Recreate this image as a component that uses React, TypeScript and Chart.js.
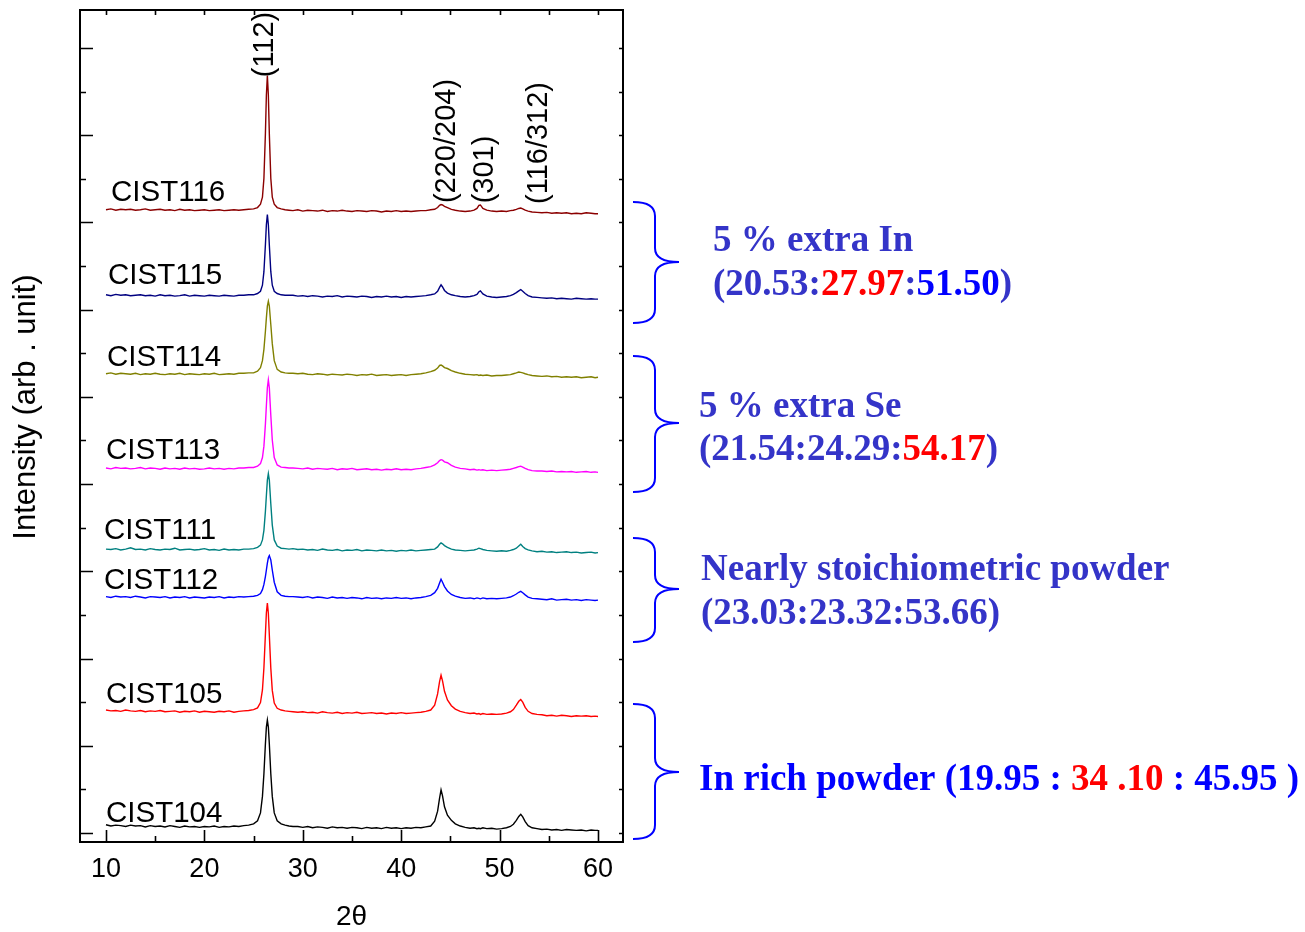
import React, { useEffect, useRef } from "react";
import { Chart, registerables } from "chart.js";

Chart.register(...registerables);

const SANS = '"Liberation Sans", Arial, Helvetica, sans-serif';
const SERIF = '"Liberation Serif", "Times New Roman", serif';

// 2θ sampling points (degrees)
const TWO_THETA = [
  10, 10.5, 11, 11.5, 12, 12.5, 13, 13.5, 14, 14.5, 15, 15.5, 16, 16.5, 17, 17.5, 18, 18.5, 19, 19.5, 20, 20.5, 21, 21.5, 22, 22.5, 23, 23.5, 24, 24.5,
  25, 25.4, 25.7, 25.9, 26.05, 26.2, 26.3, 26.4, 26.5, 26.6, 26.75, 26.9, 27.1, 27.4, 27.8,
  28.2, 28.6, 29, 29.5, 30, 30.5, 31, 31.5, 32, 32.5, 33, 33.5, 34, 34.5, 35, 35.5, 36, 36.5, 37, 37.5, 38, 38.5, 39, 39.5, 40, 40.5, 41, 41.5, 42, 42.5, 43,
  43.4, 43.7, 43.9, 44.05, 44.2, 44.4, 44.7, 45.1, 45.5, 46, 46.5, 47, 47.4, 47.7, 47.9, 48.05, 48.3, 48.7, 49.2, 49.7,
  50.2, 50.7, 51.1, 51.4, 51.7, 51.95, 52.15, 52.35, 52.6, 52.9, 53.3, 53.8,
  54.3, 54.8, 55.3, 55.8, 56.3, 56.8, 57.3, 57.8, 58.3, 58.8, 59.3, 59.7, 60,
];

// intensities (arb. units, before vertical stacking offset)
const CIST104 = [
  14, 11, 13, 12, 10, 13, 11, 12, 9, 12, 10, 11, 9, 12, 10, 8, 11, 9, 10, 8, 10, 9, 11, 8, 10, 9, 11, 10, 12, 13,
  16, 23, 41, 79, 131, 199, 238, 254, 238, 199, 131, 79, 41, 23, 16,
  13, 11, 10, 10, 8, 10, 7, 9, 8, 6, 9, 7, 8, 6, 8, 7, 5, 8, 6, 7, 5, 8, 6, 7, 5, 7, 6, 8, 7, 9, 11,
  22, 45, 75, 94, 80, 55, 36, 24, 16, 11, 8, 6, 7, 5, 6, 5, 7, 5, 6, 4,
  5, 7, 10, 15, 24, 33, 38, 32, 21, 12, 7, 5,
  3, 4, 2, 3, 1, 3, 2, 1, 2, 0, 2, 1, 1,
];
const CIST105 = [
  15, 13, 14, 12, 15, 13, 12, 14, 11, 13, 12, 14, 11, 12, 13, 10, 12, 11, 13, 10, 12, 11, 10, 12, 11, 13, 10, 12, 13, 14,
  16, 20, 32, 61, 112, 188, 238, 260, 237, 187, 111, 60, 31, 19, 15,
  13, 12, 11, 10, 11, 9, 10, 8, 11, 9, 8, 10, 7, 9, 8, 10, 7, 8, 9, 7, 8, 6, 8, 7, 9, 7, 8, 9, 10, 12, 15,
  26, 52, 80, 95, 82, 58, 38, 25, 17, 12, 9, 7, 8, 6, 7, 5, 7, 5, 6, 5,
  6, 8, 11, 16, 26, 35, 39, 33, 21, 12, 7, 5,
  4, 2, 3, 1, 3, 2, 0, 2, 1, 2, 0, 1, 0,
];
const CIST112 = [
  9, 7, 10, 8, 9, 7, 10, 8, 6, 9, 8, 7, 9, 6, 8, 7, 9, 6, 8, 7, 6, 8, 7, 9, 6, 8, 7, 9, 8, 9,
  10, 12, 16, 25, 37, 55, 70, 86, 98, 103, 93, 70, 42, 20, 12,
  10, 9, 9, 8, 7, 9, 6, 8, 7, 5, 8, 6, 7, 5, 7, 6, 4, 7, 5, 6, 4, 6, 5, 7, 5, 6, 4, 6, 7, 9, 12,
  18, 28, 40, 49, 42, 32, 22, 14, 10, 7, 5, 6, 4, 6, 5, 4, 6, 4, 5, 4,
  5, 6, 8, 11, 15, 19, 21, 18, 13, 8, 5, 4,
  3, 2, 4, 1, 2, 3, 1, 2, 0, 2, 1, 0, 1,
];
const CIST111 = [
  9, 8, 10, 7, 9, 12, 8, 9, 7, 10, 8, 7, 9, 8, 11, 7, 8, 9, 7, 8, 10, 7, 8, 6, 9, 7, 8, 7, 9, 9,
  10, 13, 18, 30, 52, 95, 132, 167, 182, 167, 113, 64, 30, 16, 11,
  10, 9, 10, 8, 9, 7, 8, 6, 9, 7, 6, 8, 5, 7, 6, 8, 5, 7, 6, 5, 7, 5, 6, 4, 6, 5, 7, 5, 6, 7, 8,
  9, 14, 20, 23, 21, 17, 13, 9, 7, 6, 5, 6, 7, 9, 11, 10, 8, 6, 5, 4,
  5, 4, 6, 8, 11, 16, 20, 15, 10, 7, 5, 3,
  4, 2, 3, 1, 2, 3, 1, 2, 0, 1, 2, 0, 1,
];
const CIST113 = [
  10, 8, 11, 9, 10, 8, 9, 11, 8, 10, 9, 7, 10, 8, 9, 7, 10, 8, 9, 7, 8, 10, 8, 9, 7, 9, 8, 10, 10, 11,
  11, 14, 20, 34, 60, 110, 153, 194, 212, 194, 131, 74, 34, 17, 12,
  11, 10, 10, 9, 8, 10, 7, 9, 8, 7, 9, 6, 8, 7, 9, 6, 7, 8, 6, 7, 5, 7, 6, 8, 6, 7, 6, 8, 9, 11, 13,
  17, 22, 27, 29, 28, 24, 22, 16, 12, 9, 8, 6, 7, 5, 6, 5, 6, 4, 5, 4,
  5, 6, 7, 9, 11, 13, 14, 12, 9, 6, 4, 3,
  3, 2, 3, 1, 2, 1, 2, 0, 1, 2, 0, 1, 0,
];
const CIST114 = [
  9, 11, 8, 10, 9, 8, 10, 7, 9, 8, 10, 8, 7, 9, 8, 10, 7, 9, 8, 7, 9, 8, 10, 7, 8, 9, 8, 10, 10, 11,
  11, 15, 23, 39, 65, 106, 137, 164, 175, 164, 122, 78, 39, 19, 13,
  11, 10, 10, 9, 10, 8, 7, 9, 8, 6, 8, 7, 6, 8, 7, 5, 7, 6, 8, 5, 6, 7, 5, 6, 7, 5, 7, 8, 9, 11, 14,
  17, 22, 28, 29, 27, 23, 21, 16, 13, 10, 8, 7, 6, 7, 5, 6, 5, 6, 4, 5,
  5, 6, 7, 9, 11, 13, 12, 11, 9, 7, 5, 4,
  3, 4, 2, 3, 1, 2, 1, 2, 0, 1, 2, 0, 1,
];
const CIST115 = [
  10, 8, 11, 9, 10, 8, 9, 10, 8, 9, 7, 10, 8, 9, 7, 8, 10, 7, 9, 8, 7, 9, 8, 7, 9, 8, 7, 9, 9, 10,
  10, 13, 18, 32, 63, 124, 171, 194, 171, 124, 63, 32, 18, 13, 10,
  9, 9, 9, 7, 8, 6, 8, 7, 5, 7, 6, 8, 5, 7, 6, 5, 7, 6, 4, 6, 5, 7, 5, 6, 4, 6, 5, 6, 7, 8, 10,
  12, 18, 27, 33, 28, 20, 14, 10, 8, 6, 5, 6, 8, 11, 17, 19, 12, 7, 5, 4,
  5, 6, 8, 11, 15, 19, 22, 18, 13, 8, 5, 4,
  3, 2, 3, 1, 2, 1, 0, 2, 1, 0, 1, 0, 0,
];
const CIST116 = [
  9, 11, 8, 10, 9, 10, 8, 9, 11, 8, 9, 10, 8, 9, 7, 10, 8, 9, 7, 8, 9, 7, 8, 9, 7, 8, 9, 8, 9, 10,
  11, 14, 22, 38, 81, 183, 272, 317, 272, 183, 81, 38, 22, 14, 11,
  9, 8, 7, 9, 6, 8, 7, 6, 8, 5, 7, 6, 8, 6, 5, 7, 6, 5, 7, 6, 4, 6, 5, 7, 5, 6, 5, 6, 7, 7, 9,
  10, 14, 19, 21, 20, 17, 14, 10, 8, 6, 5, 6, 8, 12, 19, 20, 12, 8, 6, 5,
  6, 5, 7, 8, 10, 12, 13, 11, 8, 6, 4, 3,
  2, 3, 1, 2, 1, 2, 0, 1, 0, 2, 1, 0, 0,
];

const SAMPLE_NAMES = ["CIST104", "CIST105", "CIST112", "CIST111", "CIST113", "CIST114", "CIST115", "CIST116"];
const SERIES = [CIST104, CIST105, CIST112, CIST111, CIST113, CIST114, CIST115, CIST116];
const OFFSETS = [5, 267, 533, 642, 827, 1044, 1224, 1420];
const LINE_COLORS = ["#000000", "#FF0000", "#0000FF", "#008080", "#FF00FF", "#808000", "#000080", "#8B0000"];

const X_MAJOR_TICKS = [10, 20, 30, 40, 50, 60];
const X_MINOR_TICKS = [15, 25, 35, 45, 55];
const Y_MAJOR_TICKS = [0, 200, 400, 600, 800, 1000, 1200, 1400, 1600, 1800];
const Y_MINOR_TICKS = [100, 300, 500, 700, 900, 1100, 1300, 1500, 1700];

const PEAK_LABELS = ["(112)", "(220/204)", "(301)", "(116/312)"];

const VIOLET = "#3434C8";
const BLUE = "#0000FF";
const RED = "#FF0000";

const GROUP_TEXT: { x: number; y: number; parts: [string, string][] }[] = [
  { x: 713, y: 251, parts: [["5 % extra In", VIOLET]] },
  { x: 713, y: 295, parts: [["(20.53:", VIOLET], ["27.97", RED], [":", VIOLET], ["51.50", BLUE], [")", VIOLET]] },
  { x: 699, y: 417, parts: [["5 % extra Se", VIOLET]] },
  { x: 699, y: 460, parts: [["(21.54:24.29:", VIOLET], ["54.17", RED], [")", VIOLET]] },
  { x: 701, y: 580, parts: [["Nearly stoichiometric powder", VIOLET]] },
  { x: 701, y: 624, parts: [["(23.03:23.32:53.66)", VIOLET]] },
  { x: 699, y: 790, parts: [["In rich powder (19.95 : ", BLUE], ["34 .10", RED], [" : 45.95 )", BLUE]] },
];

const BRACES = [
  { top: 202, tip: 262, bottom: 323 },
  { top: 356, tip: 423, bottom: 492 },
  { top: 538, tip: 589, bottom: 642 },
  { top: 704, tip: 772, bottom: 839 },
];

const overlayPlugin = {
  id: "overlay",
  afterDatasetsDraw(chart: any) {
    const { ctx, chartArea: a, scales } = chart;
    const xs = scales.x;
    const ys = scales.y;
    ctx.save();
    ctx.strokeStyle = "#000";
    ctx.lineWidth = 2;
    ctx.strokeRect(a.left, a.top, a.right - a.left, a.bottom - a.top);
    ctx.lineWidth = 1.6;
    ctx.beginPath();
    X_MAJOR_TICKS.forEach((v) => {
      const p = Math.round(xs.getPixelForValue(v)) + 0.5;
      ctx.moveTo(p, a.bottom);
      ctx.lineTo(p, a.bottom - 12);
      ctx.moveTo(p, a.top);
      ctx.lineTo(p, a.top + 5);
    });
    X_MINOR_TICKS.forEach((v) => {
      const p = Math.round(xs.getPixelForValue(v)) + 0.5;
      ctx.moveTo(p, a.bottom);
      ctx.lineTo(p, a.bottom - 6);
      ctx.moveTo(p, a.top);
      ctx.lineTo(p, a.top + 5);
    });
    Y_MAJOR_TICKS.forEach((v) => {
      const p = Math.round(ys.getPixelForValue(v)) + 0.5;
      ctx.moveTo(a.left, p);
      ctx.lineTo(a.left + 13, p);
      ctx.moveTo(a.right, p);
      ctx.lineTo(a.right - 4, p);
    });
    Y_MINOR_TICKS.forEach((v) => {
      const p = Math.round(ys.getPixelForValue(v)) + 0.5;
      ctx.moveTo(a.left, p);
      ctx.lineTo(a.left + 6, p);
      ctx.moveTo(a.right, p);
      ctx.lineTo(a.right - 4, p);
    });
    ctx.stroke();
    ctx.restore();
  },
  afterDraw(chart: any) {
    const { ctx } = chart;
    ctx.save();
    ctx.fillStyle = "#000";
    ctx.font = `31px ${SANS}`;
    ctx.textAlign = "center";
    ctx.textBaseline = "middle";
    ctx.save();
    ctx.translate(26, 407);
    ctx.rotate(-Math.PI / 2);
    ctx.fillText("Intensity (arb . unit)", 0, 0);
    ctx.restore();

    const namePos = [[106, 822], [106, 703], [104, 589], [104, 539], [106, 459], [107, 366], [108, 284], [111, 201]];
    ctx.font = `29.5px ${SANS}`;
    ctx.textAlign = "left";
    ctx.textBaseline = "alphabetic";
    SAMPLE_NAMES.forEach((n, i) => {
      ctx.fillText(n, namePos[i][0], namePos[i][1]);
    });

    const peakPos = [[265, 44.5], [447, 141], [485, 169.5], [539, 143]];
    ctx.font = `29px ${SANS}`;
    ctx.textAlign = "center";
    ctx.textBaseline = "middle";
    PEAK_LABELS.forEach((t, i) => {
      ctx.save();
      ctx.translate(peakPos[i][0], peakPos[i][1]);
      ctx.rotate(-Math.PI / 2);
      ctx.fillText(t, 0, 0);
      ctx.restore();
    });

    ctx.strokeStyle = BLUE;
    ctx.lineWidth = 2;
    const x0 = 633, sx = 655, tx = 679, r = 14;
    BRACES.forEach((b) => {
      ctx.beginPath();
      ctx.moveTo(x0, b.top);
      ctx.quadraticCurveTo(sx, b.top, sx, b.top + r);
      ctx.lineTo(sx, b.tip - r);
      ctx.quadraticCurveTo(sx, b.tip, tx, b.tip);
      ctx.quadraticCurveTo(sx, b.tip, sx, b.tip + r);
      ctx.lineTo(sx, b.bottom - r);
      ctx.quadraticCurveTo(sx, b.bottom, x0, b.bottom);
      ctx.stroke();
    });

    ctx.font = `bold 37px ${SERIF}`;
    ctx.textAlign = "left";
    ctx.textBaseline = "alphabetic";
    GROUP_TEXT.forEach((g) => {
      let x = g.x;
      g.parts.forEach(([t, c]) => {
        ctx.fillStyle = c;
        ctx.fillText(t, x, g.y);
        x += ctx.measureText(t).width;
      });
    });
    ctx.restore();
  },
};

export default function App() {
  const ref = useRef<HTMLCanvasElement>(null);
  useEffect(() => {
    if (!ref.current) return;
    const datasets = SERIES.map((vals, k) => ({
      label: SAMPLE_NAMES[k],
      data: TWO_THETA.map((t, i) => ({ x: t, y: OFFSETS[k] + vals[i] })),
      borderColor: LINE_COLORS[k],
      backgroundColor: LINE_COLORS[k],
      borderWidth: 1.4,
      pointRadius: 0,
      fill: false,
      tension: 0,
    }));
    const chart = new Chart(ref.current, {
      type: "line",
      data: { datasets },
      plugins: [overlayPlugin],
      options: {
        animation: false,
        responsive: false,
        devicePixelRatio: 1,
        layout: { padding: { left: 0, top: 10, right: 682, bottom: 0 } },
        plugins: { legend: { display: false }, tooltip: { enabled: false } },
        scales: {
          x: {
            type: "linear",
            min: 7.36,
            max: 62.54,
            afterFit: (s: any) => {
              s.height = 90;
            },
            afterBuildTicks: (s: any) => {
              s.ticks = X_MAJOR_TICKS.map((v) => ({ value: v }));
            },
            grid: { display: false, drawTicks: false },
            border: { display: false },
            ticks: {
              color: "#000",
              font: { family: SANS, size: 27 },
              padding: 11,
              maxRotation: 0,
              autoSkip: false,
            },
            title: {
              display: true,
              text: "2θ",
              color: "#000",
              font: { family: SANS, size: 28, lineHeight: 1 },
              padding: { top: 0, bottom: 1 },
            },
          },
          y: {
            type: "linear",
            min: -20.6,
            max: 1887,
            afterFit: (s: any) => {
              s.width = 80;
            },
            grid: { display: false, drawTicks: false },
            border: { display: false },
            ticks: { display: false },
          },
        },
      },
    } as any);
    return () => chart.destroy();
  }, []);
  return (
    <div style={{ position: "absolute", left: 0, top: 0, width: 1305, height: 932, background: "#fff" }}>
      <canvas ref={ref} width={1305} height={932} style={{ display: "block" }} />
    </div>
  );
}
